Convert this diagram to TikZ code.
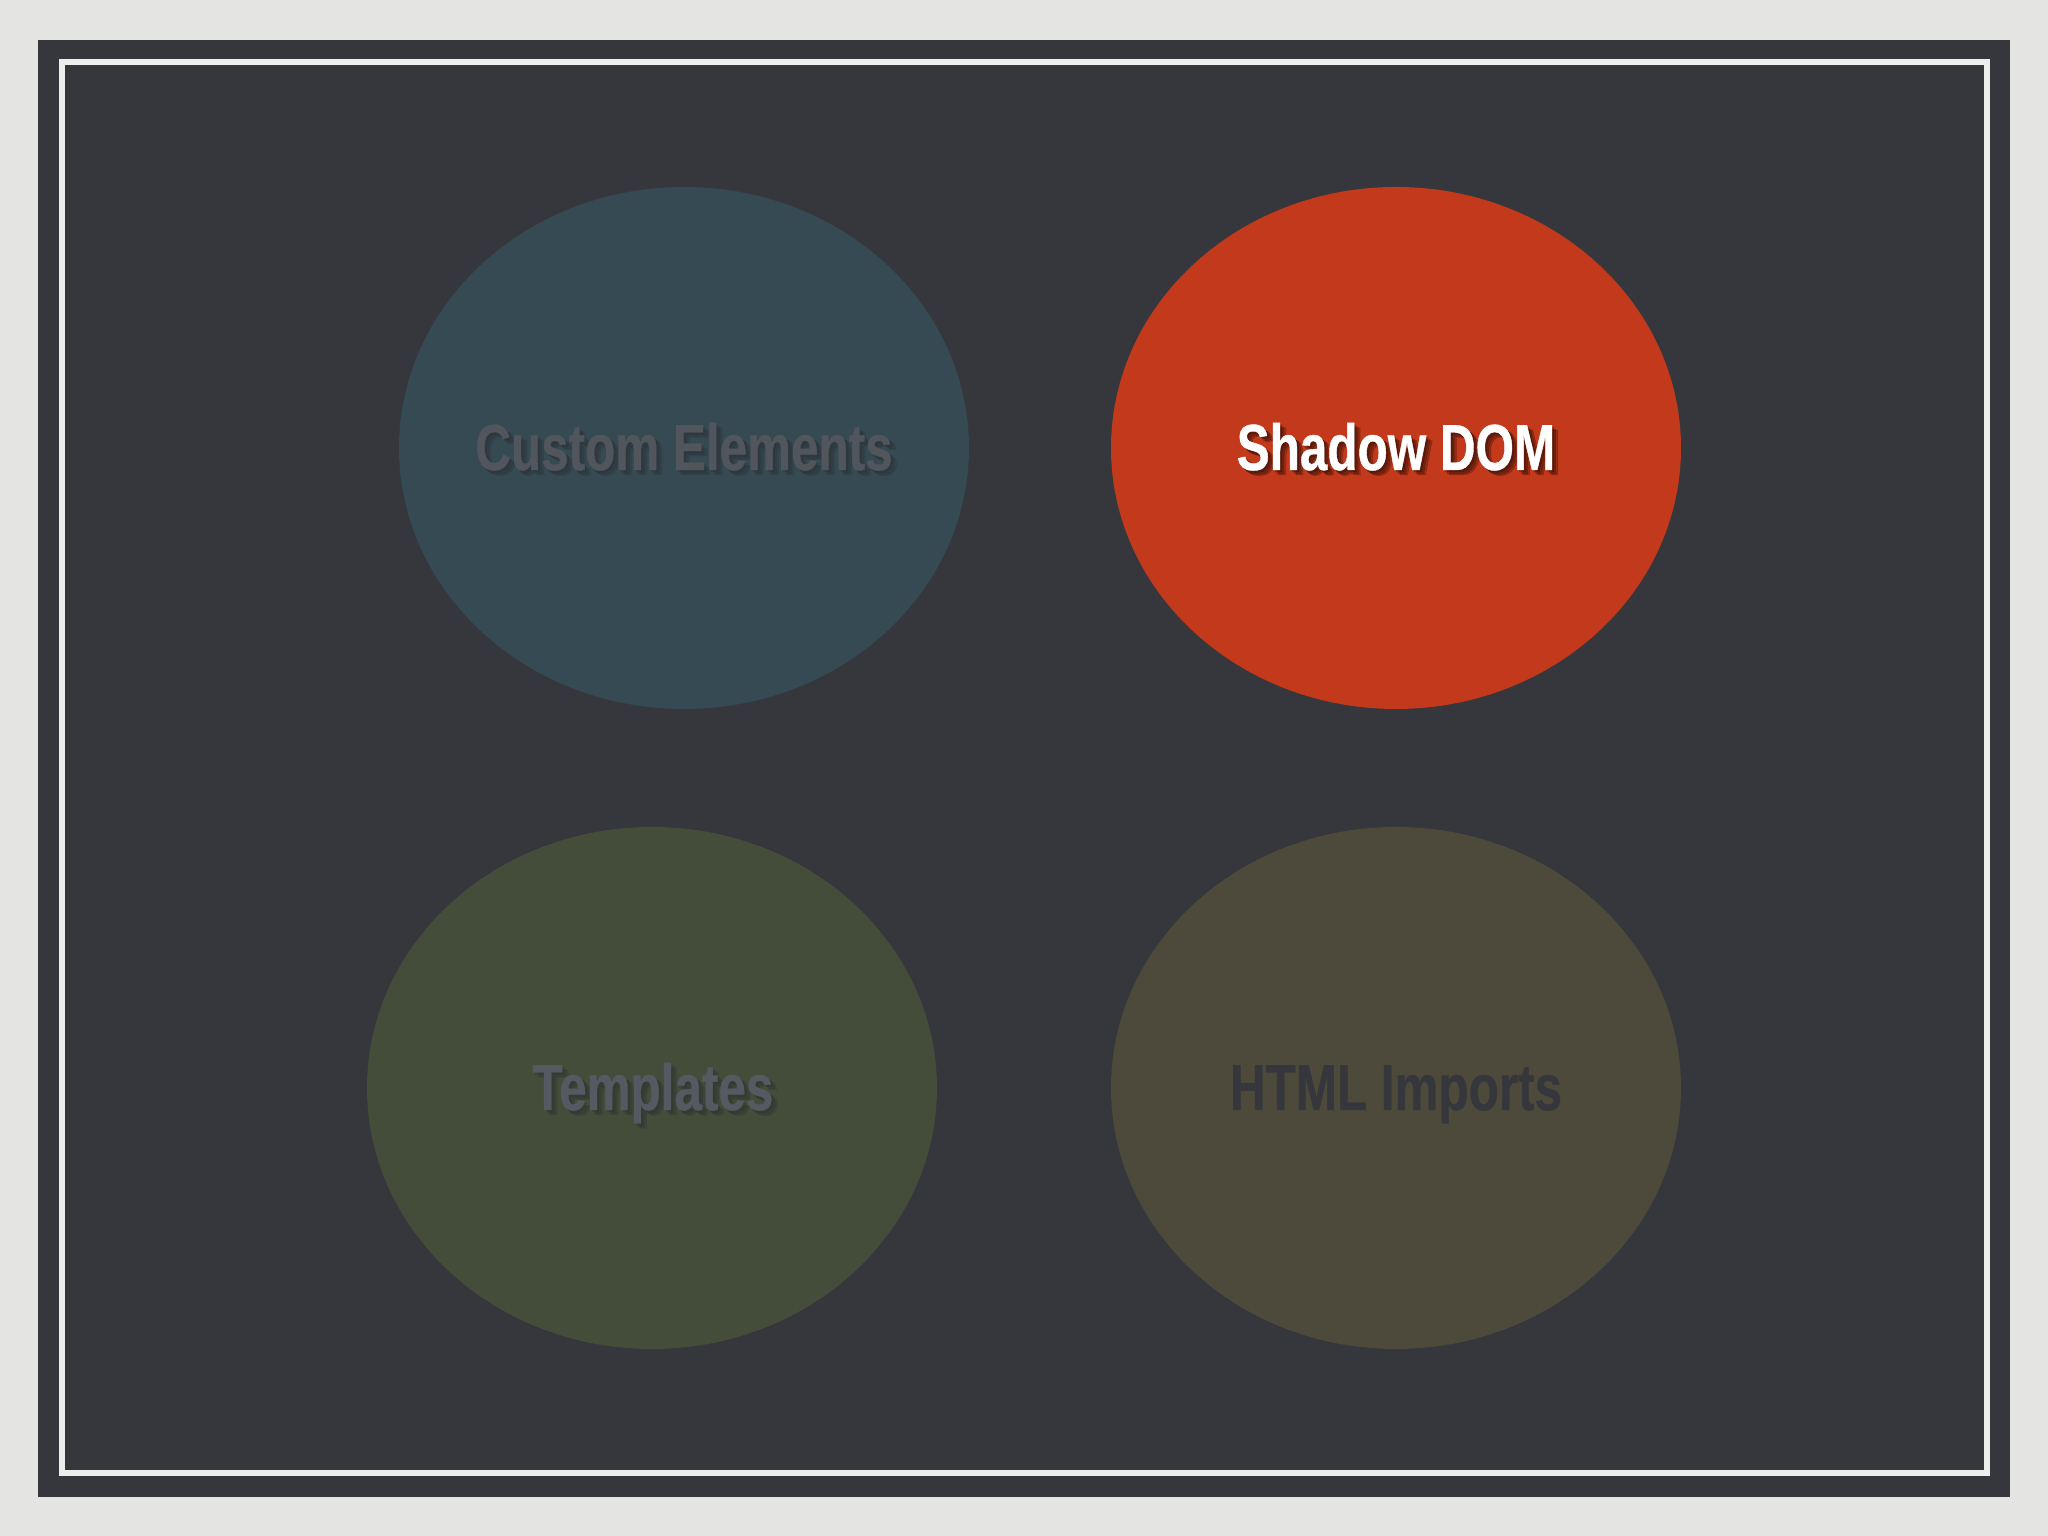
\documentclass[tikz,border=0pt]{standalone}
\usepackage{fontspec}
\usetikzlibrary{shapes.geometric}
\newfontfamily\condbold[FakeStretch=0.76,FakeBold=0.6]{Liberation Sans Bold}
\definecolor{pagebg}{HTML}{E4E4E3}
\definecolor{panel}{HTML}{35373C}
\definecolor{frameline}{HTML}{EDEDEB}
\definecolor{ceFill}{HTML}{354A52}
\definecolor{sdFill}{HTML}{C2391B}
\definecolor{tpFill}{HTML}{444D3A}
\definecolor{hiFill}{HTML}{4D4A3B}
\definecolor{ceText}{HTML}{51555C}
\definecolor{tpText}{HTML}{555961}
\definecolor{hiText}{HTML}{35373C}
\definecolor{shadowDark}{HTML}{2A2B2E}
\tikzset{
  blob/.style={ellipse, minimum width=5.70cm, minimum height=5.22cm, inner sep=0pt, draw=none},
  lbl/.style={anchor=base, inner sep=0pt, font=\condbold\fontsize{18.5}{20}\selectfont},
  shd/.style={lbl, text=#1, opacity=0.22},
}
\begin{document}
\begin{tikzpicture}
\useasboundingbox (0,0) rectangle (20.48,15.36);
\fill[pagebg] (0,0) rectangle (20.48,15.36);
\fill[panel] (0.38,0.39) rectangle (20.10,14.96);
\draw[frameline, line width=1.5pt, line cap=round] (0.62,0.63) rectangle (19.87,14.74);
% ellipses
\node[blob, fill=ceFill] (ce) at (6.84,10.88) {};
\node[blob, fill=sdFill] (sd) at (13.96,10.88) {};
\node[blob, fill=tpFill] (tp) at (6.52,4.48) {};
\node[blob, fill=hiFill] (hi) at (13.96,4.48) {};
% labels with soft shadows
\node[shd=shadowDark] (ceS1) at (6.86,10.64) {Custom Elements};
\node[shd=shadowDark] (ceS2) at (6.88,10.62) {Custom Elements};
\node[shd=shadowDark] (ceS3) at (6.90,10.61) {Custom Elements};
\node[lbl, text=ceText] (ceL) at (6.84,10.66) {Custom Elements};
\node[shd=black] (sdS1) at (13.98,10.64) {Shadow DOM};
\node[shd=black] (sdS2) at (14.00,10.62) {Shadow DOM};
\node[shd=black] (sdS3) at (14.02,10.61) {Shadow DOM};
\node[lbl, text=white] (sdL) at (13.96,10.66) {Shadow DOM};
\node[shd=shadowDark] (tpS1) at (6.55,4.24) {Templates};
\node[shd=shadowDark] (tpS2) at (6.57,4.22) {Templates};
\node[shd=shadowDark] (tpS3) at (6.59,4.21) {Templates};
\node[lbl, text=tpText] (tpL) at (6.53,4.26) {Templates};
\node[lbl, text=hiText] (hiL) at (13.96,4.26) {HTML Imports};
\end{tikzpicture}
\end{document}
